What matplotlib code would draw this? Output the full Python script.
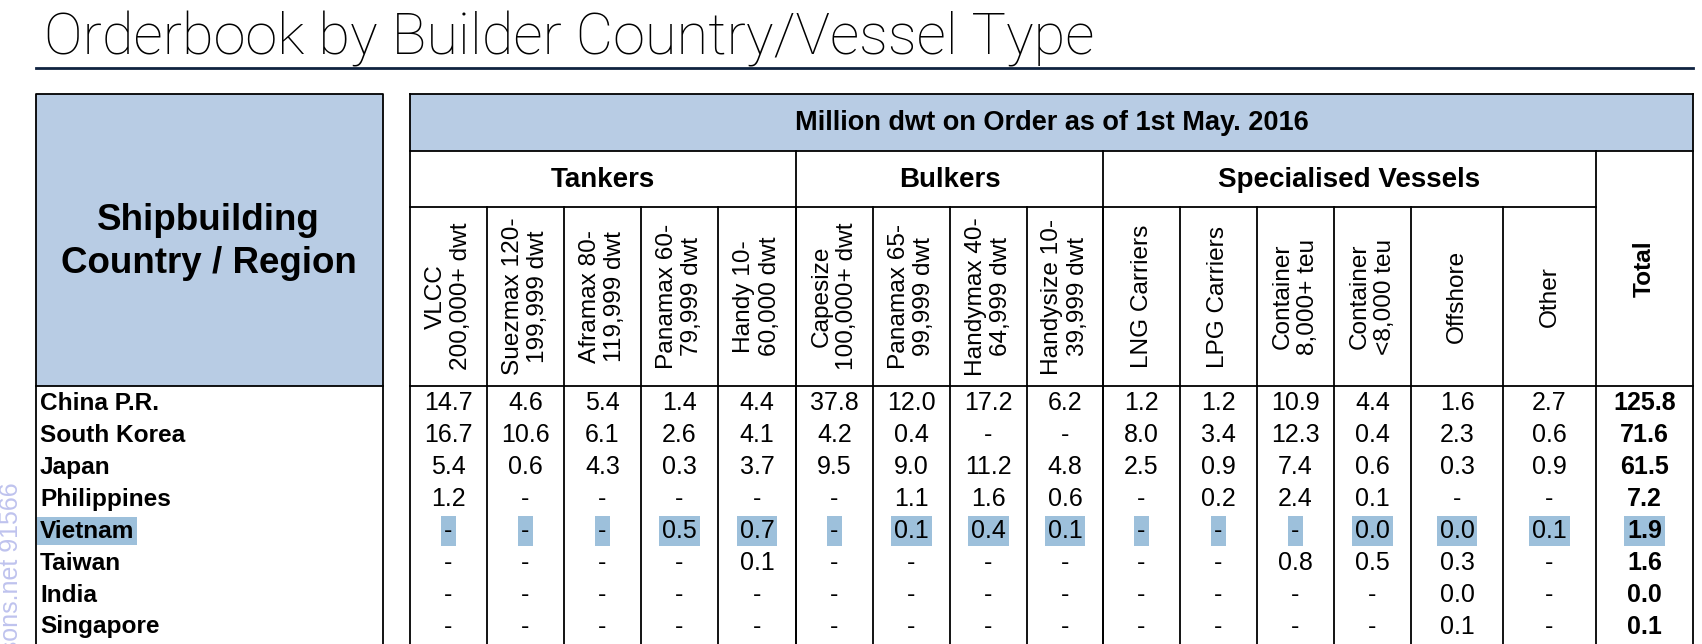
import numpy as np
import matplotlib
matplotlib.use("Agg")
from matplotlib import pyplot as plt
from matplotlib.patches import Rectangle

# ---- data ----
title = "Orderbook by Builder Country/Vessel Type"
table_title = "Million dwt on Order as of 1st May. 2016"
row_header = "Shipbuilding\nCountry / Region"
groups = ["Tankers", "Bulkers", "Specialised Vessels"]
group_sizes = [5, 4, 6]
columns = ["VLCC\n200,000+ dwt", "Suezmax 120-\n199,999 dwt", "Aframax 80-\n119,999 dwt",
           "Panamax 60-\n79,999 dwt", "Handy 10-\n60,000 dwt",
           "Capesize\n100,000+ dwt", "Panamax 65-\n99,999 dwt", "Handymax 40-\n64,999 dwt",
           "Handysize 10-\n39,999 dwt",
           "LNG Carriers", "LPG Carriers", "Container\n8,000+ teu", "Container\n<8,000 teu",
           "Offshore", "Other"]
countries = ["China P.R.", "South Korea", "Japan", "Philippines", "Vietnam",
             "Taiwan", "India", "Singapore"]
N = None
values = [
    [14.7, 4.6, 5.4, 1.4, 4.4, 37.8, 12.0, 17.2, 6.2, 1.2, 1.2, 10.9, 4.4, 1.6, 2.7],
    [16.7, 10.6, 6.1, 2.6, 4.1, 4.2, 0.4, N, N, 8.0, 3.4, 12.3, 0.4, 2.3, 0.6],
    [5.4, 0.6, 4.3, 0.3, 3.7, 9.5, 9.0, 11.2, 4.8, 2.5, 0.9, 7.4, 0.6, 0.3, 0.9],
    [1.2, N, N, N, N, N, 1.1, 1.6, 0.6, N, 0.2, 2.4, 0.1, N, N],
    [N, N, N, 0.5, 0.7, N, 0.1, 0.4, 0.1, N, N, N, 0.0, 0.0, 0.1],
    [N, N, N, N, 0.1, N, N, N, N, N, N, 0.8, 0.5, 0.3, N],
    [N, N, N, N, N, N, N, N, N, N, N, N, N, 0.0, N],
    [N, N, N, N, N, N, N, N, N, N, N, N, N, 0.1, N],
]
totals = [125.8, 71.6, 61.5, 7.2, 1.9, 1.6, 0.0, 0.1]
highlight_row = "Vietnam"

# ---- layout (pixels) ----
W, H = 1702, 644
col_edges = [410, 487, 564, 641, 718, 796, 873, 950, 1027, 1103,
             1180, 1257, 1334, 1411, 1503, 1596, 1693]
left_x0, left_x1 = 36, 383
y_top, y_bar, y_grp, y_hdr = 94, 151, 207, 386
row_h = 32
blue = "#b8cce4"
hl = "#9dc0db"
lw = 1.3

fig = plt.figure(figsize=(W / 100, H / 100), dpi=100)
ax = fig.add_axes([0, 0, 1, 1])
ax.set_xlim(0, W)
ax.set_ylim(H, 0)
ax.axis("off")

font = "Liberation Sans"

# title + rule
ax.text(44, 54, title, fontsize=41.6, family=["Roboto", "DejaVu Sans"], fontweight="light",
        va="baseline", ha="left", color="black")
ax.plot([36, 1693], [68, 68], color="#0f2340", lw=2)

# watermark
ax.text(11, 482, "clarksons.net 91566", rotation=90, fontsize=18, family=font,
        color="#bfc3ee", ha="center", va="top")

# left header box
ax.add_patch(Rectangle((left_x0, y_top), left_x1 - left_x0, y_hdr - y_top, fc=blue, ec="none"))
ax.plot([left_x0, left_x1, left_x1, left_x0, left_x0],
        [H + 5, H + 5, y_top, y_top, H + 5], color="black", lw=lw)
ax.plot([left_x0, left_x1], [y_hdr, y_hdr], color="black", lw=lw)
ax.text((left_x0 + left_x1) / 2 - 1, (y_top + y_hdr) / 2 + 2, row_header, fontsize=26.5,
        family=font, fontweight="bold", ha="center", va="center", linespacing=1.32)

# right table frame
x0, x1 = col_edges[0], col_edges[-1]
ax.add_patch(Rectangle((x0, y_top), x1 - x0, y_bar - y_top, fc=blue, ec="none"))
ax.plot([x0, x1], [y_top, y_top], color="black", lw=lw)
ax.plot([x0, x1], [y_bar, y_bar], color="black", lw=lw)
ax.plot([x0, col_edges[-2]], [y_grp, y_grp], color="black", lw=lw)
ax.plot([x0, x1], [y_hdr, y_hdr], color="black", lw=lw)
ax.plot([x0, x0], [y_top, H + 5], color="black", lw=lw)
ax.plot([x1, x1], [y_top, H + 5], color="black", lw=lw)
ax.text((x0 + x1) / 2, (y_top + y_bar) / 2, table_title, fontsize=19.5, family=font,
        fontweight="bold", ha="center", va="center")

# group headers
group_bounds = np.cumsum([0] + group_sizes)
for g, name in enumerate(groups):
    gx0 = col_edges[group_bounds[g]]
    gx1 = col_edges[group_bounds[g + 1]]
    ax.text((gx0 + gx1) / 2, (y_bar + y_grp) / 2 + 1, name, fontsize=20, family=font,
            fontweight="bold", ha="center", va="center")
    ax.plot([gx1, gx1], [y_bar, H + 5], color="black", lw=lw)

# column headers + inner lines
for i, lab in enumerate(columns):
    cx = (col_edges[i] + col_edges[i + 1]) / 2
    ax.text(cx, (y_grp + y_hdr) / 2, lab, rotation=90, fontsize=17.6, family=font,
            ha="center", va="center", multialignment="center", linespacing=1.22)
    if i > 0:
        ax.plot([col_edges[i], col_edges[i]], [y_grp, H + 5], color="black", lw=lw)
tx = (col_edges[-2] + col_edges[-1]) / 2
ax.text(tx, (y_bar + y_hdr) / 2, "Total", rotation=90, fontsize=17.6, family=font,
        fontweight="bold", ha="center", va="center")

# data rows
for r, name in enumerate(countries):
    cy = y_hdr + row_h * r + row_h / 2 + 1
    box = None
    if name == highlight_row:
        box = dict(boxstyle="square,pad=0.12", fc=hl, ec="none")
    ax.text(40, cy, name, fontsize=17.6, family=font, fontweight="bold",
            ha="left", va="center", bbox=box)
    for i, v in enumerate(values[r]):
        cx = (col_edges[i] + col_edges[i + 1]) / 2
        s = "-" if v is None else f"{v:.1f}"
        ax.text(cx, cy, s, fontsize=18, family=font, ha="center", va="center", bbox=box)
    ax.text(tx, cy, f"{totals[r]:.1f}", fontsize=18, family=font, fontweight="bold",
            ha="center", va="center", bbox=box)

fig.savefig("out.png", dpi=100)
